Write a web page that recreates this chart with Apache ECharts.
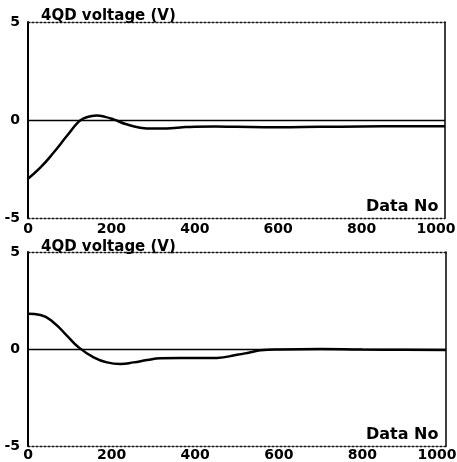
<!DOCTYPE html>
<html lang="en">
<head>
  <meta charset="UTF-8">
  <title>4QD voltage</title>
  <script src="https://cdn.jsdelivr.net/npm/echarts@6/dist/echarts.min.js"></script>
  <style>
    html, body { margin: 0; padding: 0; background: #fff; }
  </style>
</head>
<body>
  <div id="chart" style="width:457px; height:462px;"></div>
  <script>
    // data (x = data no, y = volts)
    var topX = [0, 30, 60, 93, 121, 135, 150, 165, 185, 205, 236, 269, 300, 333, 365, 400, 450, 500, 600, 700, 800, 900, 1000];
    var topY = [-3.0, -2.42, -1.7, -0.82, -0.1, 0.09, 0.19, 0.23, 0.16, 0.03, -0.22, -0.39, -0.44, -0.43, -0.38, -0.34, -0.33, -0.35, -0.37, -0.35, -0.33, -0.32, -0.32];
    var botX = [0, 30, 61, 93, 121, 157, 189, 221, 253, 285, 317, 365, 420, 452, 500, 530, 556, 600, 700, 800, 900, 1000];
    var botY = [1.82, 1.75, 1.37, 0.69, 0.09, -0.43, -0.69, -0.77, -0.69, -0.57, -0.48, -0.46, -0.47, -0.46, -0.3, -0.18, -0.07, -0.02, 0, -0.03, -0.04, -0.05];
    var xTicks = [0, 200, 400, 600, 800, 1000];
    var yTicks = [-5, 0, 5];

    function pairs(xs, ys) {
      return xs.map(function (x, i) { return [x, ys[i]]; });
    }

    var font = 'DejaVu Sans';
    var chart = echarts.init(document.getElementById('chart'));

    function xAx(idx, pos) {
      var bottom = pos === 'bottom';
      return {
        type: 'value', gridIndex: idx, position: pos, min: 0, max: 1000, interval: 200,
        axisLine: { show: true, onZero: false, lineStyle: { color: '#111', width: 1.3, type: [2, 2] } },
        axisTick: { show: false },
        axisLabel: {
          show: bottom, color: '#000', fontFamily: font, fontWeight: 'bold', fontSize: 14, margin: idx === 0 ? 4 : 2,
          formatter: function (v) {
            if (xTicks.indexOf(v) < 0) return '';
            return v === 1000 ? '{last|' + v + '}' : String(v);
          },
          rich: { last: { fontFamily: font, fontWeight: 'bold', fontSize: 14, color: '#000', padding: [0, 18, 0, 0] } }
        },
        splitLine: { show: false }
      };
    }
    function yAx(idx, pos) {
      var left = pos === 'left';
      return {
        type: 'value', gridIndex: idx, position: pos, min: -5, max: 5, interval: 5,
        axisLine: { show: true, onZero: false, lineStyle: { color: '#000', width: left ? 2 : 1.5 } },
        axisTick: { show: false },
        axisLabel: {
          show: left, color: '#000', fontFamily: font, fontWeight: 'bold', fontSize: 14, margin: 8,
          formatter: function (v) { return yTicks.indexOf(v) >= 0 ? String(v) : ''; }
        },
        splitLine: { show: false }
      };
    }
    function zeroLine() {
      return {
        silent: true, symbol: 'none', label: { show: false },
        lineStyle: { color: '#000', width: 1.3, type: 'solid' },
        data: [{ yAxis: 0 }]
      };
    }

    chart.setOption({
      animation: false,
      backgroundColor: '#fff',
      grid: [
        { left: 28, right: 12, top: 22, height: 196, outerBoundsMode: 'none' },
        { left: 28, right: 11, top: 252, height: 194, outerBoundsMode: 'none' }
      ],
      title: [
        { text: '4QD voltage (V)', left: 36, top: 4, textStyle: { fontFamily: font, fontWeight: 'bold', fontSize: 15, color: '#000' } },
        { text: '4QD voltage (V)', left: 36, top: 235, textStyle: { fontFamily: font, fontWeight: 'bold', fontSize: 15, color: '#000' } }
      ],
      graphic: [
        { type: 'text', left: 366, top: 199, style: { text: 'Data No', font: 'bold 16px "DejaVu Sans"', fill: '#000' } },
        { type: 'text', left: 366, top: 427, style: { text: 'Data No', font: 'bold 16px "DejaVu Sans"', fill: '#000' } }
      ],
      xAxis: [xAx(0, 'bottom'), xAx(0, 'top'), xAx(1, 'bottom'), xAx(1, 'top')],
      yAxis: [yAx(0, 'left'), yAx(0, 'right'), yAx(1, 'left'), yAx(1, 'right')],
      series: [
        {
          type: 'line', xAxisIndex: 0, yAxisIndex: 0, data: pairs(topX, topY),
          smooth: true, symbol: 'none', lineStyle: { color: '#000', width: 2.5 },
          markLine: zeroLine()
        },
        {
          type: 'line', xAxisIndex: 2, yAxisIndex: 2, data: pairs(botX, botY),
          smooth: true, symbol: 'none', lineStyle: { color: '#000', width: 2.5 },
          markLine: zeroLine()
        }
      ]
    });
  </script>
</body>
</html>
